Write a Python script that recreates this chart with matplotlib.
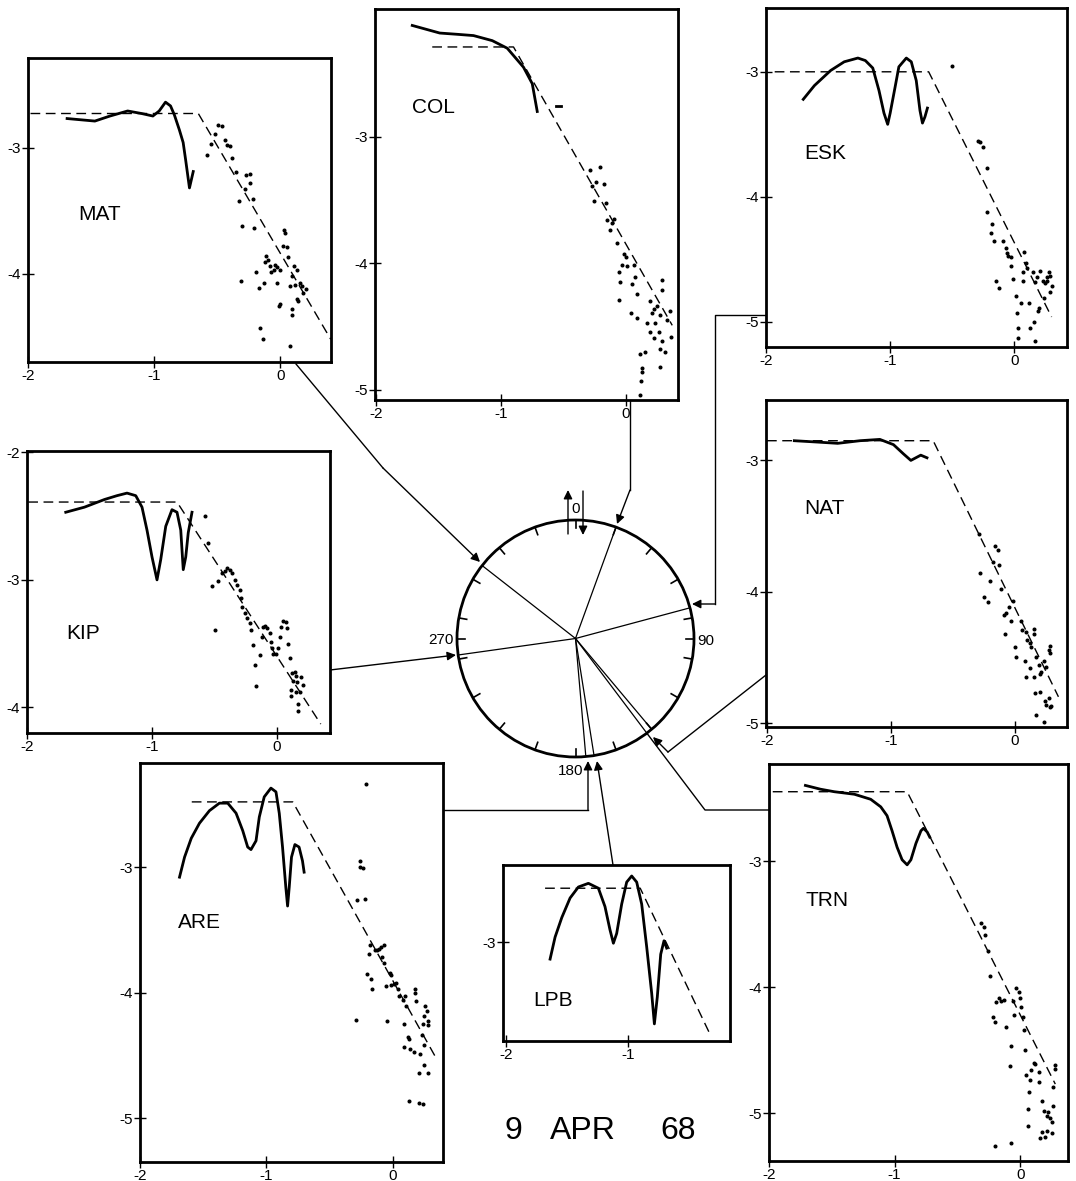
import numpy as np
import matplotlib.pyplot as plt
from matplotlib.patches import Circle

plt.rcParams['font.family'] = ['Liberation Sans', 'DejaVu Sans']
plt.rcParams['axes.unicode_minus'] = False

# station azimuths (degrees from north) drawn as rays in the centre circle
stations = ['MAT', 'COL', 'ESK', 'KIP', 'NAT', 'ARE', 'TRN', 'LPB']
azimuths = [308, 20, 75, 262, 140, 175, 143, 171]

# ---- MAT ----
mat_curve_x = [-1.69, -1.58, -1.47, -1.35, -1.21, -1.10, -1.01, -0.96, -0.91, -0.87, -0.84, -0.80, -0.77, -0.75, -0.72, -0.69]
mat_curve_y = [-2.77, -2.78, -2.79, -2.75, -2.71, -2.73, -2.75, -2.71, -2.64, -2.67, -2.74, -2.86, -2.96, -3.10, -3.32, -3.19]
mat_dash_x = [-1.98, -0.65, 0.40]
mat_dash_y = [-2.73, -2.73, -4.52]
mat_pts = [(-0.58, -3.06), (-0.55, -2.97), (-0.52, -2.89), (-0.49, -2.82), (-0.46, -2.83), (-0.44, -2.94),
           (-0.42, -2.98), (-0.40, -2.99), (-0.38, -3.08), (-0.35, -3.19), (-0.27, -3.22), (-0.24, -3.21),
           (-0.24, -3.28), (-0.28, -3.33), (-0.33, -3.42), (-0.22, -3.41), (-0.30, -3.62), (-0.21, -3.64),
           (-0.31, -4.06), (-0.19, -3.99), (-0.13, -4.07), (-0.17, -4.11), (-0.11, -3.86), (-0.10, -3.89),
           (-0.12, -3.91), (-0.08, -3.94), (-0.07, -3.99), (-0.05, -3.97), (-0.04, -3.93), (-0.03, -3.95),
           (-0.03, -4.07), (0.00, -3.97), (0.02, -3.78), (0.03, -3.65), (0.04, -3.68), (0.05, -3.79),
           (0.06, -3.87), (0.08, -4.10), (0.09, -4.02), (0.11, -3.94), (0.13, -3.97), (0.12, -4.09),
           (0.13, -4.20), (0.14, -4.22), (0.16, -4.07), (0.17, -4.10), (0.18, -4.15), (0.20, -4.12),
           (-0.01, -4.26), (0.00, -4.24), (0.09, -4.28), (0.09, -4.33), (-0.16, -4.43), (-0.14, -4.52),
           (0.08, -4.57)]

# ---- COL ----
col_curve_x = [-1.71, -1.60, -1.49, -1.35, -1.22, -1.07, -0.95, -0.82, -0.75, -0.71]
col_curve_y = [-2.12, -2.15, -2.18, -2.19, -2.20, -2.24, -2.30, -2.45, -2.58, -2.80]
col_dash_x = [-1.55, -0.90, 0.37]
col_dash_y = [-2.29, -2.29, -4.49]
col_pts = [(-0.29, -3.26), (-0.21, -3.24), (-0.27, -3.39), (-0.24, -3.36), (-0.18, -3.37), (-0.26, -3.51),
           (-0.16, -3.52), (-0.15, -3.66), (-0.11, -3.68), (-0.10, -3.65), (-0.13, -3.74), (-0.07, -3.84),
           (-0.02, -3.93), (0.00, -3.95), (-0.03, -4.01), (0.01, -4.02), (0.06, -4.01), (-0.06, -4.07),
           (0.07, -4.11), (-0.05, -4.15), (0.05, -4.16), (0.09, -4.24), (-0.06, -4.29), (0.29, -4.13),
           (0.29, -4.21), (0.19, -4.30), (0.22, -4.36), (0.25, -4.34), (0.04, -4.39), (0.09, -4.43),
           (0.21, -4.39), (0.27, -4.41), (0.17, -4.47), (0.23, -4.47), (0.19, -4.54), (0.26, -4.54),
           (0.22, -4.59), (0.29, -4.61), (0.27, -4.68), (0.15, -4.70), (0.11, -4.72), (0.13, -4.83),
           (0.13, -4.86), (0.12, -4.93), (0.11, -5.04), (0.27, -4.82), (0.33, -4.45), (0.36, -4.58),
           (0.31, -4.70), (0.35, -4.38)]
col_tick_x = [-0.56, -0.52]
col_tick_y = [-2.76, -2.76]

# ---- ESK ----
esk_curve_x = [-1.70, -1.61, -1.48, -1.37, -1.26, -1.20, -1.14, -1.09, -1.05, -1.02, -1.00, -0.96, -0.93, -0.87, -0.83, -0.79, -0.76, -0.74, -0.72, -0.70]
esk_curve_y = [-3.22, -3.11, -2.99, -2.92, -2.89, -2.91, -2.97, -3.15, -3.33, -3.42, -3.33, -3.12, -2.96, -2.89, -2.92, -3.07, -3.31, -3.41, -3.36, -3.29]
esk_dash_x = [-1.93, -0.69, 0.30]
esk_dash_y = [-3.00, -3.00, -4.96]
esk_pts = [(-0.50, -2.95), (-0.29, -3.55), (-0.28, -3.56), (-0.25, -3.60), (-0.22, -3.77), (-0.22, -4.12),
           (-0.18, -4.22), (-0.19, -4.29), (-0.16, -4.35), (-0.09, -4.35), (-0.07, -4.41), (-0.06, -4.45),
           (-0.05, -4.47), (-0.03, -4.48), (-0.03, -4.55), (-0.15, -4.67), (-0.12, -4.73), (-0.01, -4.66),
           (0.01, -4.79), (0.02, -4.93), (0.03, -5.05), (0.03, -5.13), (0.05, -4.85), (0.07, -4.60),
           (0.08, -4.44), (0.09, -4.53), (0.07, -4.67), (0.10, -4.57), (0.12, -4.85), (0.13, -5.05),
           (0.16, -5.00), (0.17, -5.15), (0.15, -4.60), (0.17, -4.68), (0.18, -4.64), (0.20, -4.89),
           (0.19, -4.91), (0.21, -4.59), (0.23, -4.67), (0.24, -4.81), (0.25, -4.69), (0.26, -4.67),
           (0.26, -4.64), (0.28, -4.60), (0.29, -4.63), (0.29, -4.76), (0.30, -4.71)]

# ---- KIP ----
kip_curve_x = [-1.69, -1.54, -1.38, -1.28, -1.20, -1.13, -1.08, -1.04, -1.00, -0.96, -0.93, -0.89, -0.84, -0.80, -0.77, -0.75, -0.73, -0.71, -0.68]
kip_curve_y = [-2.47, -2.43, -2.37, -2.34, -2.32, -2.34, -2.43, -2.61, -2.82, -3.00, -2.84, -2.58, -2.45, -2.47, -2.61, -2.92, -2.82, -2.63, -2.47]
kip_dash_x = [-1.99, -0.80, 0.35]
kip_dash_y = [-2.39, -2.39, -4.13]
kip_pts = [(-0.58, -2.50), (-0.55, -2.71), (-0.52, -3.05), (-0.50, -3.39), (-0.47, -3.01), (-0.44, -2.95),
           (-0.42, -2.93), (-0.40, -2.91), (-0.38, -2.92), (-0.36, -2.95), (-0.34, -3.00), (-0.32, -3.04),
           (-0.30, -3.08), (-0.29, -3.14), (-0.28, -3.21), (-0.26, -3.26), (-0.24, -3.30), (-0.22, -3.34),
           (-0.21, -3.39), (-0.19, -3.51), (-0.18, -3.67), (-0.17, -3.83), (-0.14, -3.59), (-0.12, -3.45),
           (-0.11, -3.37), (-0.10, -3.36), (-0.08, -3.38), (-0.06, -3.42), (-0.05, -3.49), (-0.04, -3.53),
           (-0.03, -3.58), (-0.01, -3.58), (0.01, -3.53), (0.02, -3.45), (0.03, -3.37), (0.05, -3.32),
           (0.07, -3.33), (0.08, -3.38), (0.09, -3.50), (0.10, -3.61), (0.12, -3.73), (0.14, -3.72),
           (0.15, -3.75), (0.13, -3.79), (0.16, -3.80), (0.19, -3.76), (0.21, -3.82), (0.11, -3.86),
           (0.15, -3.88), (0.18, -3.88), (0.11, -3.91), (0.17, -3.97), (0.17, -4.03)]

# ---- NAT ----
nat_curve_x = [-1.78, -1.60, -1.43, -1.25, -1.09, -0.98, -0.90, -0.84, -0.76, -0.71]
nat_curve_y = [-2.85, -2.86, -2.87, -2.85, -2.84, -2.88, -2.95, -3.00, -2.96, -2.98]
nat_dash_x = [-2.00, -0.66, 0.35]
nat_dash_y = [-2.85, -2.85, -4.80]
nat_pts = [(-0.29, -3.56), (-0.28, -3.86), (-0.20, -3.92), (-0.25, -4.04), (-0.22, -4.08), (-0.16, -3.65),
           (-0.14, -3.68), (-0.18, -3.77), (-0.13, -3.80), (-0.11, -3.98), (-0.09, -4.18), (-0.07, -4.16),
           (-0.05, -4.12), (-0.02, -4.07), (-0.08, -4.32), (-0.03, -4.22), (0.00, -4.42), (0.01, -4.50),
           (0.05, -4.22), (0.06, -4.29), (0.09, -4.31), (0.10, -4.37), (0.12, -4.39), (0.13, -4.42),
           (0.15, -4.28), (0.15, -4.32), (0.08, -4.53), (0.09, -4.65), (0.12, -4.58), (0.15, -4.65),
           (0.17, -4.50), (0.19, -4.56), (0.20, -4.63), (0.21, -4.61), (0.23, -4.53), (0.25, -4.57),
           (0.28, -4.41), (0.27, -4.44), (0.28, -4.47), (0.16, -4.77), (0.20, -4.76), (0.24, -4.83),
           (0.25, -4.86), (0.27, -4.81), (0.28, -4.88), (0.29, -4.87), (0.17, -4.94), (0.23, -4.99)]

# ---- ARE ----
are_curve_x = [-1.687, -1.647, -1.594, -1.529, -1.450, -1.371, -1.305, -1.239, -1.186, -1.147, -1.121, -1.081, -1.055,
               -1.016, -0.963, -0.923, -0.897, -0.871, -0.845, -0.831, -0.818, -0.800, -0.773, -0.740, -0.713, -0.700]
are_curve_y = [-3.08, -2.92, -2.77, -2.65, -2.55, -2.49, -2.49, -2.57, -2.71, -2.84, -2.86, -2.79, -2.60,
               -2.44, -2.37, -2.40, -2.57, -2.84, -3.16, -3.31, -3.16, -2.92, -2.82, -2.84, -2.95, -3.04]
are_dash_x = [-1.59, -0.79, 0.35]
are_dash_y = [-2.48, -2.48, -4.53]
are_pts = [(-0.26, -2.95), (-0.26, -3.00), (-0.23, -3.01), (-0.28, -3.26), (-0.22, -3.25), (-0.29, -4.22),
           (-0.18, -3.62), (-0.19, -3.69), (-0.14, -3.66), (-0.12, -3.66), (-0.11, -3.65), (-0.09, -3.64),
           (-0.07, -3.62), (-0.08, -3.72), (-0.07, -3.76), (-0.20, -3.85), (-0.17, -3.89), (-0.16, -3.97),
           (-0.02, -3.84), (-0.01, -3.86), (-0.05, -3.95), (-0.01, -3.94), (0.01, -3.93), (0.03, -3.92),
           (0.04, -3.97), (-0.04, -4.23), (0.05, -4.03), (0.08, -4.06), (0.10, -4.03), (0.11, -4.11),
           (0.09, -4.25), (0.12, -4.35), (0.13, -4.37), (0.09, -4.43), (0.14, -4.45), (0.17, -4.47),
           (0.18, -3.97), (0.18, -4.00), (0.19, -4.07), (0.22, -4.49), (0.23, -4.34), (0.25, -4.42),
           (0.24, -4.25), (0.25, -4.19), (0.26, -4.11), (0.27, -4.15), (0.28, -4.23), (0.28, -4.26),
           (0.21, -4.64), (0.25, -4.58), (0.28, -4.64), (0.13, -4.86), (0.21, -4.88), (0.24, -4.89),
           (-0.21, -2.34)]

# ---- TRN ----
trn_curve_x = [-1.71, -1.59, -1.48, -1.32, -1.19, -1.11, -1.06, -1.02, -0.98, -0.94, -0.90, -0.87, -0.83, -0.79, -0.77, -0.74, -0.72]
trn_curve_y = [-2.40, -2.43, -2.45, -2.47, -2.51, -2.57, -2.64, -2.76, -2.89, -2.99, -3.03, -2.99, -2.86, -2.76, -2.74, -2.77, -2.81]
trn_dash_x = [-1.97, -0.90, 0.28]
trn_dash_y = [-2.45, -2.45, -4.77]
trn_pts = [(-0.31, -3.49), (-0.29, -3.52), (-0.28, -3.59), (-0.26, -3.71), (-0.24, -3.91), (-0.22, -4.24),
           (-0.20, -4.28), (-0.19, -4.12), (-0.17, -4.09), (-0.15, -4.11), (-0.13, -4.10), (-0.11, -4.32),
           (-0.08, -4.63), (-0.07, -4.47), (-0.06, -4.11), (-0.05, -4.22), (-0.03, -4.01), (-0.01, -4.04),
           (0.00, -4.09), (0.01, -4.16), (0.02, -4.24), (0.03, -4.34), (0.04, -4.50), (0.05, -4.70),
           (0.08, -4.74), (0.07, -4.83), (0.09, -4.66), (0.11, -4.60), (0.12, -4.61), (0.15, -4.67),
           (0.15, -4.75), (0.06, -4.97), (0.06, -5.10), (0.17, -4.90), (0.19, -4.98), (0.21, -5.02),
           (0.22, -4.99), (0.24, -5.04), (0.25, -5.07), (0.26, -4.94), (0.26, -4.79), (0.28, -4.65),
           (0.28, -4.62), (0.17, -5.15), (0.20, -5.19), (0.21, -5.14), (0.25, -5.16), (0.16, -5.20),
           (-0.20, -5.26), (-0.07, -5.24)]

# ---- LPB ----
lpb_curve_x = [-1.639, -1.598, -1.543, -1.475, -1.407, -1.325, -1.243, -1.189, -1.148, -1.120, -1.093, -1.052,
               -1.011, -0.970, -0.929, -0.888, -0.847, -0.806, -0.784, -0.760, -0.732, -0.705, -0.683]
lpb_curve_y = [-3.14, -2.96, -2.80, -2.64, -2.55, -2.52, -2.56, -2.71, -2.90, -3.01, -2.93, -2.69,
               -2.51, -2.46, -2.51, -2.69, -3.04, -3.42, -3.67, -3.45, -3.10, -2.99, -3.05]
lpb_dash_x = [-1.68, -0.90, -0.33]
lpb_dash_y = [-2.56, -2.56, -3.75]
lpb_pts = []

W, H = 1076, 1181
fig = plt.figure(figsize=(W / 100, H / 100), dpi=100)


def box(x0, y0, x1, y1):
    return [x0 / W, 1 - y1 / H, (x1 - x0) / W, (y1 - y0) / H]


# overlay in pixel units for the azimuth circle and the connecting arrows
ov = fig.add_axes([0, 0, 1, 1])
ov.set_xlim(0, W)
ov.set_ylim(H, 0)
ov.axis('off')

cx, cy, R = 575.5, 638.5, 118.5


def rim(az, r=R):
    a = np.radians(az)
    return cx + r * np.sin(a), cy - r * np.cos(a)


ov.add_patch(Circle((cx, cy), R, fill=False, lw=2, color='k'))
for a in list(range(0, 360, 20)) + [90, 270]:
    (x0, y0), (x1, y1) = rim(a, R - 8), rim(a, R)
    ov.plot([x0, x1], [y0, y1], color='k', lw=1.2)
for az in azimuths:
    x1, y1 = rim(az)
    ov.plot([cx, x1], [cy, y1], color='k', lw=0.9)

ov.text(697, 641, '90', fontsize=11, ha='left', va='center')
ov.text(454, 640, '270', fontsize=11, ha='right', va='center')
ov.text(571, 771, '180', fontsize=11, ha='center', va='center')
ov.text(575.5, 509, '0', fontsize=11, ha='center', va='center')

arrow = dict(arrowstyle='-|>', color='k', lw=1, mutation_scale=13, shrinkA=0, shrinkB=0)
ov.annotate('', xy=(568, 490), xytext=(568, 534), arrowprops=arrow)
ov.annotate('', xy=(583, 535), xytext=(583, 491), arrowprops=arrow)

# connector paths from each panel to its ray on the circle
paths = {
    'MAT': [(296, 364), (383, 468), (480, 562)],
    'COL': [(630, 400), (630, 490), (617, 524)],
    'ESK': [(766, 315), (715, 315), (715, 604), (692, 604)],
    'KIP': [(330, 670), (456, 655)],
    'NAT': [(766, 675), (668, 752), (653, 737)],
    'ARE': [(443, 810), (588, 810), (588, 761)],
    'LPB': [(613, 865), (597, 761)],
}
for name, pts in paths.items():
    xs, ys = zip(*pts)
    ov.plot(xs[:-1], ys[:-1], color='k', lw=1)
    ov.annotate('', xy=pts[-1], xytext=pts[-2], arrowprops=arrow)
tx, ty = rim(143)
ov.plot([769, 705, tx], [810, 810, ty], color='k', lw=1)

ov.text(513, 1131, '9', fontsize=23, ha='center', va='center')
ov.text(583, 1131, 'APR', fontsize=23, ha='center', va='center')
ov.text(678, 1131, '68', fontsize=23, ha='center', va='center')


def panel(rect, xlim, ylim, xticks, yticks, name, name_xy, cxs, cys, dxs, dys, pts):
    ax = fig.add_axes(box(*rect))
    ax.plot(dxs, dys, color='k', lw=1, ls=(0, (7, 4)))
    ax.plot(cxs, cys, color='k', lw=2, solid_joinstyle='round')
    if pts:
        p = np.array(pts)
        ax.plot(p[:, 0], p[:, 1], ls='none', marker='o', ms=1.9, color='k')
    ax.set_xlim(*xlim)
    ax.set_ylim(*ylim)
    ax.set_xticks(xticks)
    ax.set_xticklabels([f'{t:d}' for t in xticks])
    ax.set_yticks(yticks)
    ax.set_yticklabels([f'{t:d}' for t in yticks])
    for s in ax.spines.values():
        s.set_linewidth(2)
    ax.tick_params(direction='inout', length=8, width=1, labelsize=11, pad=1)
    ax.text(name_xy[0], name_xy[1], name, fontsize=15, ha='left', va='center')
    return ax


panel((28, 58, 331, 362), (-1.984, 0.402), (-4.70, -2.29), [-2, -1, 0], [-3, -4],
      'MAT', (-1.60, -3.53), mat_curve_x, mat_curve_y, mat_dash_x, mat_dash_y, mat_pts)
col_ax = panel((375, 9, 678, 400), (-2.008, 0.416), (-5.08, -1.99), [-2, -1, 0], [-3, -4, -5],
               'COL', (-1.71, -2.77), col_curve_x, col_curve_y, col_dash_x, col_dash_y, col_pts)
col_ax.plot(col_tick_x, col_tick_y, color='k', lw=2)
panel((766, 8, 1067, 347), (-1.984, 0.424), (-5.20, -2.49), [-2, -1, 0], [-3, -4, -5],
      'ESK', (-1.69, -3.65), esk_curve_x, esk_curve_y, esk_dash_x, esk_dash_y, esk_pts)
panel((27, 451, 330, 733), (-2.0, 0.424), (-4.20, -1.99), [-2, -1, 0], [-2, -3, -4],
      'KIP', (-1.69, -3.42), kip_curve_x, kip_curve_y, kip_dash_x, kip_dash_y, kip_pts)
panel((766, 400, 1067, 727), (-2.008, 0.419), (-5.03, -2.54), [-2, -1, 0], [-3, -4, -5],
      'NAT', (-1.70, -3.37), nat_curve_x, nat_curve_y, nat_dash_x, nat_dash_y, nat_pts)
panel((140, 763, 443, 1162), (-1.984, 0.40), (-5.35, -2.17), [-2, -1, 0], [-3, -4, -5],
      'ARE', (-1.70, -3.44), are_curve_x, are_curve_y, are_dash_x, are_dash_y, are_pts)
panel((769, 764, 1068, 1161), (-1.992, 0.381), (-5.38, -2.23), [-2, -1, 0], [-3, -4, -5],
      'TRN', (-1.71, -3.31), trn_curve_x, trn_curve_y, trn_dash_x, trn_dash_y, trn_pts)
panel((503, 865, 730, 1041), (-2.025, -0.164), (-3.81, -2.37), [-2, -1], [-3],
      'LPB', (-1.78, -3.48), lpb_curve_x, lpb_curve_y, lpb_dash_x, lpb_dash_y, lpb_pts)

fig.savefig('out.png', dpi=100)
